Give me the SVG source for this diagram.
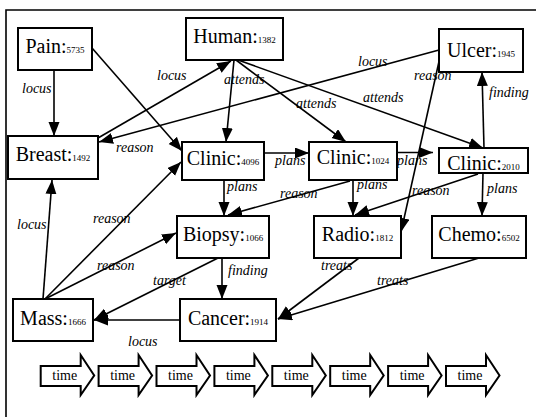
<svg xmlns="http://www.w3.org/2000/svg" width="536" height="417" viewBox="0 0 536 417" font-family="Liberation Serif, Times New Roman, serif">
<defs>
<marker id="ah" markerUnits="userSpaceOnUse" markerWidth="15" markerHeight="12" refX="14" refY="5.5" orient="auto">
<path d="M0,0 L14,5.5 L0,11 z" fill="#000"/>
</marker>
<style>
.n rect{fill:#fff;stroke:#000;stroke-width:2}
.n text{font-size:20px;text-anchor:middle;fill:#000}
.n tspan{font-size:9px}
.e line{stroke:#000;stroke-width:1.6;marker-end:url(#ah)}
.el text{font-style:italic;font-size:14px;fill:#000}
.tm polygon{fill:#fff;stroke:#000;stroke-width:2}
.tm text{font-size:14px;text-anchor:middle;fill:#000}
</style>
</defs>
<rect width="536" height="417" fill="#fff"/>
<path d="M6,417 V10 H536" fill="none" stroke="#000" stroke-width="1.6"/>

<g id="connectors" class="e">
<line x1="54" y1="70" x2="54" y2="136"/>
<line x1="92" y1="48" x2="182" y2="151"/>
<line x1="98" y1="138" x2="231" y2="61"/>
<line x1="439" y1="50" x2="99" y2="142"/>
<line x1="234" y1="60" x2="226" y2="142"/>
<line x1="236" y1="60" x2="346" y2="142"/>
<line x1="238" y1="60" x2="483" y2="148"/>
<line x1="440" y1="57" x2="401" y2="232"/>
<line x1="484" y1="148" x2="482" y2="72"/>
<line x1="264" y1="153" x2="309" y2="153"/>
<line x1="397" y1="152.5" x2="433" y2="152.5"/>
<line x1="224" y1="180" x2="224" y2="216"/>
<line x1="350" y1="181" x2="228" y2="215"/>
<line x1="353" y1="180" x2="353" y2="216"/>
<line x1="478" y1="174" x2="355" y2="215"/>
<line x1="483" y1="173" x2="482" y2="216"/>
<line x1="222" y1="258" x2="222" y2="299"/>
<line x1="218" y1="258" x2="94" y2="320"/>
<line x1="180" y1="320" x2="94" y2="320"/>
<line x1="359" y1="258" x2="278" y2="319"/>
<line x1="479" y1="258" x2="278" y2="319"/>
<line x1="43" y1="299" x2="52" y2="180"/>
<line x1="45" y1="299" x2="181" y2="162"/>
<line x1="45" y1="299" x2="176" y2="233"/>
</g>

<g id="edge-labels" class="el">
<text x="22" y="93">locus</text>
<text x="116" y="152">reason</text>
<text x="157" y="80">locus</text>
<text x="358" y="66">locus</text>
<text x="224" y="84">attends</text>
<text x="296" y="108">attends</text>
<text x="363" y="102">attends</text>
<text x="414" y="80">reason</text>
<text x="489" y="97">finding</text>
<text x="275" y="165">plans</text>
<text x="397" y="165">plans</text>
<text x="227" y="191">plans</text>
<text x="280" y="198">reason</text>
<text x="357" y="189">plans</text>
<text x="412" y="195">reason</text>
<text x="487" y="193">plans</text>
<text x="228" y="275">finding</text>
<text x="153" y="285">target</text>
<text x="128" y="346">locus</text>
<text x="321" y="270">treats</text>
<text x="377" y="285">treats</text>
<text x="17" y="229">locus</text>
<text x="93" y="223">reason</text>
<text x="97" y="270">reason</text>
</g>

<g id="pain" class="n"><rect x="18" y="28" width="74" height="42"/><text x="55" y="53">Pain:<tspan>5735</tspan></text></g>
<g id="human" class="n"><rect x="186" y="18" width="97" height="42"/><text x="234.5" y="43">Human:<tspan>1382</tspan></text></g>
<g id="ulcer" class="n"><rect x="439" y="29" width="84" height="43"/><text x="481" y="57">Ulcer:<tspan>1945</tspan></text></g>
<g id="breast" class="n"><rect x="8" y="136" width="90" height="43"/><text x="53" y="161">Breast:<tspan>1492</tspan></text></g>
<g id="clinic4096" class="n"><rect x="182" y="142" width="82" height="38"/><text x="223" y="165">Clinic:<tspan>4096</tspan></text></g>
<g id="clinic1024" class="n"><rect x="309" y="142" width="88" height="38"/><text x="353" y="164">Clinic:<tspan>1024</tspan></text></g>
<g id="clinic2010" class="n"><rect x="439" y="148" width="89" height="25"/><text x="483.5" y="170">Clinic:<tspan>2010</tspan></text></g>
<g id="biopsy" class="n"><rect x="177" y="216" width="92" height="42"/><text x="223" y="241">Biopsy:<tspan>1066</tspan></text></g>
<g id="radio" class="n"><rect x="314" y="216" width="87" height="42"/><text x="357.5" y="241">Radio:<tspan>1812</tspan></text></g>
<g id="chemo" class="n"><rect x="432" y="216" width="94" height="42"/><text x="479" y="241">Chemo:<tspan>6502</tspan></text></g>
<g id="mass" class="n"><rect x="13" y="299" width="80" height="42"/><text x="53" y="325">Mass:<tspan>1666</tspan></text></g>
<g id="cancer" class="n"><rect x="180" y="299" width="96" height="42"/><text x="228" y="325">Cancer:<tspan>1914</tspan></text></g>

<g id="timeline" class="tm">
<g transform="translate(40.7,0)"><polygon points="0,366 40,366 40,355 53.5,375.5 40,395 40,386 0,386"/><text x="24" y="380">time</text></g>
<g transform="translate(98.6,0)"><polygon points="0,366 40,366 40,355 53.5,375.5 40,395 40,386 0,386"/><text x="24" y="380">time</text></g>
<g transform="translate(156.5,0)"><polygon points="0,366 40,366 40,355 53.5,375.5 40,395 40,386 0,386"/><text x="24" y="380">time</text></g>
<g transform="translate(214.4,0)"><polygon points="0,366 40,366 40,355 53.5,375.5 40,395 40,386 0,386"/><text x="24" y="380">time</text></g>
<g transform="translate(272.3,0)"><polygon points="0,366 40,366 40,355 53.5,375.5 40,395 40,386 0,386"/><text x="24" y="380">time</text></g>
<g transform="translate(330.2,0)"><polygon points="0,366 40,366 40,355 53.5,375.5 40,395 40,386 0,386"/><text x="24" y="380">time</text></g>
<g transform="translate(388.1,0)"><polygon points="0,366 40,366 40,355 53.5,375.5 40,395 40,386 0,386"/><text x="24" y="380">time</text></g>
<g transform="translate(446,0)"><polygon points="0,366 40,366 40,355 53.5,375.5 40,395 40,386 0,386"/><text x="24" y="380">time</text></g>
</g>
</svg>
